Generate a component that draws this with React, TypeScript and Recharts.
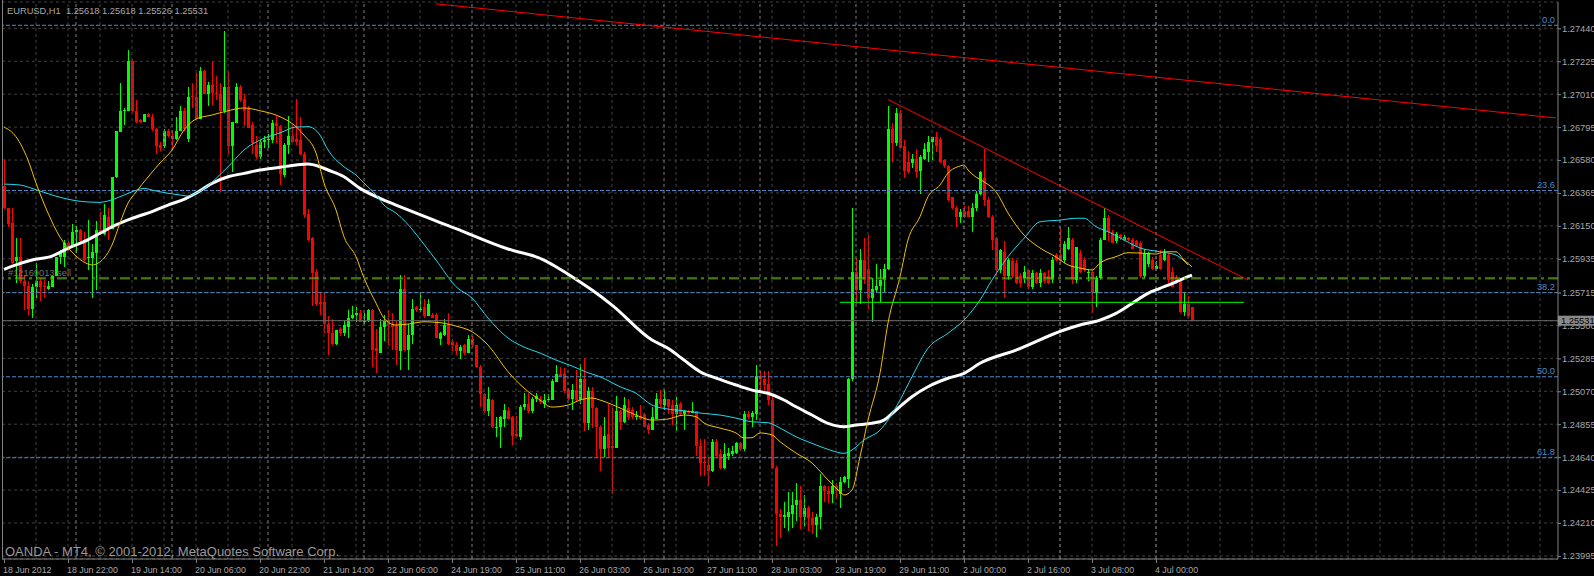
import { ComposedChart, Bar, Line, XAxis, YAxis, CartesianGrid, ReferenceLine } from "recharts";

// EURUSD H1, one entry per hourly bar (bar 0 = 18 Jun 06:00)
const opens = [
  1.2641, 1.2627, 1.2617, 1.2592, 1.2595, 1.2579, 1.2576, 1.2561, 1.2575, 1.2579,
  1.2576, 1.2574, 1.2575, 1.2582, 1.2595, 1.2595, 1.2604, 1.2602, 1.2611, 1.2612,
  1.2606, 1.2594, 1.2594, 1.2597, 1.2612, 1.2610, 1.2621, 1.2613, 1.2647, 1.2676,
  1.2690, 1.2690, 1.2723, 1.2690, 1.2684, 1.2683, 1.2688, 1.2686, 1.2678, 1.2668,
  1.2667, 1.2677, 1.2674, 1.2672, 1.2677, 1.2690, 1.2672, 1.2700, 1.2699, 1.2685,
  1.2716, 1.2701, 1.2707, 1.2702, 1.2701, 1.2690, 1.2706, 1.2667, 1.2682, 1.2706,
  1.2698, 1.2692, 1.2681, 1.2668, 1.2660, 1.2670, 1.2671, 1.2671, 1.2682, 1.2680,
  1.2648, 1.2668, 1.2674, 1.2672, 1.2671, 1.2662, 1.2623, 1.2607, 1.2585, 1.2565,
  1.2565, 1.2551, 1.2545, 1.2538, 1.2548, 1.2545, 1.2549, 1.2555, 1.2557, 1.2558,
  1.2552, 1.2553, 1.2560, 1.2535, 1.2532, 1.2549, 1.2553, 1.2551, 1.2550, 1.2533,
  1.2574, 1.2534, 1.2544, 1.2562, 1.2560, 1.2562, 1.2556, 1.2557, 1.2557, 1.2541,
  1.2544, 1.2551, 1.2539, 1.2537, 1.2533, 1.2537, 1.2532, 1.2541, 1.2537, 1.2523,
  1.2505, 1.2494, 1.2501, 1.2484, 1.2484, 1.2489, 1.2494, 1.2490, 1.2479, 1.2477,
  1.2497, 1.2499, 1.2494, 1.2502, 1.2502, 1.2499, 1.2501, 1.2501, 1.2513, 1.2518,
  1.2518, 1.2508, 1.2502, 1.2508, 1.2501, 1.2515, 1.2486, 1.2507, 1.2496, 1.2484,
  1.2469, 1.2479, 1.2471, 1.2470, 1.2494, 1.2487, 1.2496, 1.2495, 1.2490, 1.2491,
  1.2492, 1.2485, 1.2482, 1.2489, 1.2502, 1.2498, 1.2502, 1.2498, 1.2492, 1.2499,
  1.2492, 1.2494, 1.2493, 1.2494, 1.2471, 1.2461, 1.2459, 1.2455, 1.2474, 1.2466,
  1.2457, 1.2465, 1.2466, 1.2467, 1.2473, 1.2469, 1.2492, 1.2490, 1.2492, 1.2517,
  1.2515, 1.2512, 1.2501, 1.2457, 1.2427, 1.2425, 1.2425, 1.2427, 1.2433, 1.2436,
  1.2425, 1.2431, 1.2424, 1.2420, 1.2425, 1.2445, 1.2442, 1.2440, 1.2445, 1.2440,
  1.2448, 1.2450, 1.2515, 1.2585, 1.2573, 1.2593, 1.2587, 1.2568, 1.2573, 1.2576,
  1.2580, 1.2587, 1.2678, 1.2669, 1.2689, 1.2667, 1.2657, 1.2656, 1.2659, 1.2651,
  1.2659, 1.2663, 1.2670, 1.2673, 1.2672, 1.2658, 1.2654, 1.2634, 1.2627, 1.2621,
  1.2625, 1.2625, 1.2621, 1.2627, 1.2636, 1.2646, 1.2632, 1.2621, 1.2607, 1.2586,
  1.2598, 1.2582, 1.2592, 1.2591, 1.2582, 1.2581, 1.2586, 1.2575, 1.2584, 1.2578,
  1.2584, 1.2582, 1.2580, 1.2596, 1.2596, 1.2593, 1.2600, 1.2606, 1.2580, 1.2597,
  1.2593, 1.2584, 1.2585, 1.2571, 1.2581, 1.2606, 1.2620, 1.2611, 1.2605, 1.2609,
  1.2606, 1.2607, 1.2606, 1.2605, 1.2604, 1.2582, 1.2590, 1.2593, 1.2587, 1.2596,
  1.2593, 1.2596, 1.2585, 1.2581, 1.2580, 1.2559, 1.2564, 1.25618,
];
const highs = [
  1.2659, 1.2627, 1.2627, 1.2607, 1.2607, 1.2583, 1.2579, 1.2577, 1.2591, 1.2581,
  1.2580, 1.2579, 1.2582, 1.2595, 1.2599, 1.2606, 1.2605, 1.2616, 1.2615, 1.2613,
  1.2611, 1.2619, 1.2603, 1.2618, 1.2624, 1.2629, 1.2627, 1.2647, 1.2677, 1.2708,
  1.2692, 1.2730, 1.2724, 1.2697, 1.2685, 1.2688, 1.2689, 1.2688, 1.2679, 1.2670,
  1.2678, 1.2678, 1.2677, 1.2686, 1.2693, 1.2692, 1.2706, 1.2708, 1.2715, 1.2719,
  1.2717, 1.2709, 1.2723, 1.2713, 1.2708, 1.2742, 1.2716, 1.2683, 1.2708, 1.2707,
  1.2701, 1.2693, 1.2683, 1.2674, 1.2671, 1.2674, 1.2675, 1.2684, 1.2687, 1.2681,
  1.2669, 1.2687, 1.2681, 1.2698, 1.2686, 1.2663, 1.2626, 1.2608, 1.2587, 1.2572,
  1.2571, 1.2556, 1.2554, 1.2547, 1.2549, 1.2553, 1.2560, 1.2563, 1.2562, 1.2560,
  1.2558, 1.2561, 1.2561, 1.2548, 1.2554, 1.2557, 1.2560, 1.2558, 1.2553, 1.2583,
  1.2583, 1.2551, 1.2567, 1.2563, 1.2572, 1.2567, 1.2567, 1.2558, 1.2558, 1.2546,
  1.2554, 1.2558, 1.2541, 1.2539, 1.2537, 1.2538, 1.2544, 1.2543, 1.2537, 1.2524,
  1.2506, 1.2510, 1.2502, 1.2490, 1.2491, 1.2499, 1.2497, 1.2491, 1.2491, 1.2498,
  1.2506, 1.2506, 1.2503, 1.2506, 1.2504, 1.2505, 1.2505, 1.2515, 1.2524, 1.2523,
  1.2522, 1.2509, 1.2512, 1.2521, 1.2525, 1.2529, 1.2510, 1.2510, 1.2497, 1.2485,
  1.2490, 1.2499, 1.2496, 1.2504, 1.2495, 1.2503, 1.2502, 1.2497, 1.2494, 1.2498,
  1.2493, 1.2486, 1.2497, 1.2506, 1.2508, 1.2508, 1.2502, 1.2501, 1.2503, 1.2500,
  1.2495, 1.2495, 1.2500, 1.2494, 1.2476, 1.2476, 1.2464, 1.2476, 1.2476, 1.2469,
  1.2473, 1.2470, 1.2471, 1.2474, 1.2474, 1.2494, 1.2494, 1.2494, 1.2524, 1.2520,
  1.2520, 1.2520, 1.2505, 1.2458, 1.2430, 1.2435, 1.2441, 1.2441, 1.2447, 1.2445,
  1.2439, 1.2432, 1.2428, 1.2427, 1.2453, 1.2446, 1.2445, 1.2449, 1.2447, 1.2451,
  1.2452, 1.2516, 1.2627, 1.2594, 1.2600, 1.2607, 1.2609, 1.2581, 1.2590, 1.2587,
  1.2590, 1.2693, 1.2682, 1.2692, 1.2691, 1.2671, 1.2664, 1.2662, 1.2665, 1.2661,
  1.2669, 1.2674, 1.2673, 1.2676, 1.2673, 1.2659, 1.2655, 1.2634, 1.2628, 1.2626,
  1.2628, 1.2628, 1.2630, 1.2638, 1.2651, 1.2665, 1.2634, 1.2622, 1.2608, 1.2600,
  1.2605, 1.2594, 1.2594, 1.2593, 1.2584, 1.2589, 1.2587, 1.2586, 1.2585, 1.2587,
  1.2585, 1.2586, 1.2595, 1.2597, 1.2614, 1.2605, 1.2614, 1.2607, 1.2601, 1.2599,
  1.2595, 1.2587, 1.2586, 1.2582, 1.2607, 1.2627, 1.2622, 1.2612, 1.2611, 1.2610,
  1.2609, 1.2608, 1.2607, 1.2606, 1.2605, 1.2600, 1.2598, 1.2595, 1.2592, 1.2599,
  1.2600, 1.2597, 1.2588, 1.2583, 1.2581, 1.2572, 1.2569, 1.25618,
];
const lows = [
  1.2626, 1.2614, 1.2590, 1.2578, 1.2578, 1.2560, 1.2557, 1.2555, 1.2568, 1.2566,
  1.2568, 1.2573, 1.2575, 1.2582, 1.2590, 1.2588, 1.2601, 1.2601, 1.2597, 1.2604,
  1.2592, 1.2586, 1.2568, 1.2573, 1.2609, 1.2609, 1.2606, 1.2613, 1.2646, 1.2676,
  1.2681, 1.2690, 1.2689, 1.2682, 1.2682, 1.2683, 1.2686, 1.2677, 1.2662, 1.2664,
  1.2666, 1.2673, 1.2665, 1.2671, 1.2677, 1.2677, 1.2670, 1.2692, 1.2684, 1.2685,
  1.2701, 1.2693, 1.2694, 1.2697, 1.2637, 1.2689, 1.2662, 1.2650, 1.2682, 1.2696,
  1.2680, 1.2679, 1.2662, 1.2659, 1.2659, 1.2666, 1.2666, 1.2669, 1.2669, 1.2642,
  1.2647, 1.2662, 1.2670, 1.2668, 1.2661, 1.2620, 1.2605, 1.2563, 1.2563, 1.2557,
  1.2545, 1.2531, 1.2537, 1.2537, 1.2543, 1.2543, 1.2542, 1.2554, 1.2552, 1.2552,
  1.2551, 1.2552, 1.2523, 1.2519, 1.2532, 1.2540, 1.2537, 1.2534, 1.2524, 1.2521,
  1.2533, 1.2521, 1.2538, 1.2559, 1.2559, 1.2555, 1.2556, 1.2555, 1.2542, 1.2537,
  1.2543, 1.2537, 1.2533, 1.2531, 1.2528, 1.2531, 1.2532, 1.2536, 1.2522, 1.2497,
  1.2493, 1.2491, 1.2483, 1.2477, 1.2470, 1.2484, 1.2489, 1.2472, 1.2477, 1.2475,
  1.2495, 1.2493, 1.2493, 1.2500, 1.2499, 1.2496, 1.2500, 1.2501, 1.2513, 1.2517,
  1.2506, 1.2501, 1.2495, 1.2500, 1.2499, 1.2481, 1.2482, 1.2483, 1.2464, 1.2455,
  1.2464, 1.2464, 1.2440, 1.2470, 1.2482, 1.2486, 1.2488, 1.2489, 1.2488, 1.2488,
  1.2484, 1.2479, 1.2482, 1.2489, 1.2497, 1.2495, 1.2492, 1.2485, 1.2481, 1.2491,
  1.2482, 1.2492, 1.2493, 1.2465, 1.2452, 1.2452, 1.2445, 1.2454, 1.2464, 1.2456,
  1.2456, 1.2462, 1.2465, 1.2466, 1.2468, 1.2468, 1.2489, 1.2484, 1.2488, 1.2508,
  1.2506, 1.2498, 1.2456, 1.2406, 1.2411, 1.2418, 1.2416, 1.2418, 1.2422, 1.2417,
  1.2419, 1.2416, 1.2414, 1.2412, 1.2417, 1.2435, 1.2434, 1.2434, 1.2437, 1.2431,
  1.2447, 1.2444, 1.2514, 1.2564, 1.2564, 1.2577, 1.2561, 1.2552, 1.2572, 1.2565,
  1.2572, 1.2586, 1.2657, 1.2667, 1.2666, 1.2646, 1.2649, 1.2653, 1.2646, 1.2636,
  1.2658, 1.2657, 1.2658, 1.2663, 1.2656, 1.2653, 1.2631, 1.2626, 1.2614, 1.2617,
  1.2620, 1.2621, 1.2611, 1.2625, 1.2635, 1.2628, 1.2620, 1.2599, 1.2582, 1.2584,
  1.2568, 1.2580, 1.2581, 1.2577, 1.2575, 1.2578, 1.2574, 1.2574, 1.2577, 1.2575,
  1.2578, 1.2577, 1.2578, 1.2592, 1.2591, 1.2591, 1.2599, 1.2577, 1.2578, 1.2584,
  1.2585, 1.2579, 1.2558, 1.2562, 1.2580, 1.2606, 1.2605, 1.2604, 1.2604, 1.2606,
  1.2605, 1.2605, 1.2600, 1.2601, 1.2581, 1.2581, 1.2588, 1.2586, 1.2586, 1.2586,
  1.2592, 1.2578, 1.2575, 1.2577, 1.2558, 1.2556, 1.2555, 1.25526,
];
const closes = [
  1.2627, 1.2616, 1.2591, 1.2595, 1.2579, 1.2576, 1.2561, 1.2575, 1.2579, 1.2575,
  1.2575, 1.2576, 1.2582, 1.2595, 1.2597, 1.2604, 1.2602, 1.2611, 1.2612, 1.2605,
  1.2593, 1.2595, 1.2598, 1.2612, 1.2610, 1.2622, 1.2613, 1.2647, 1.2677, 1.2690,
  1.2691, 1.2723, 1.2690, 1.2683, 1.2683, 1.2688, 1.2686, 1.2678, 1.2667, 1.2666,
  1.2677, 1.2674, 1.2672, 1.2677, 1.2690, 1.2678, 1.2699, 1.2699, 1.2685, 1.2716,
  1.2701, 1.2707, 1.2702, 1.2701, 1.2690, 1.2706, 1.2667, 1.2683, 1.2706, 1.2697,
  1.2690, 1.2679, 1.2669, 1.2660, 1.2670, 1.2671, 1.2672, 1.2682, 1.2680, 1.2649,
  1.2668, 1.2674, 1.2670, 1.2670, 1.2662, 1.2622, 1.2606, 1.2584, 1.2564, 1.2564,
  1.2551, 1.2545, 1.2538, 1.2547, 1.2545, 1.2550, 1.2555, 1.2557, 1.2558, 1.2552,
  1.2553, 1.2560, 1.2534, 1.2533, 1.2549, 1.2553, 1.2550, 1.2549, 1.2534, 1.2574,
  1.2534, 1.2544, 1.2561, 1.2560, 1.2561, 1.2556, 1.2564, 1.2555, 1.2542, 1.2545,
  1.2550, 1.2538, 1.2537, 1.2533, 1.2536, 1.2532, 1.2541, 1.2537, 1.2523, 1.2505,
  1.2494, 1.2502, 1.2484, 1.2484, 1.2490, 1.2495, 1.2489, 1.2478, 1.2478, 1.2497,
  1.2499, 1.2494, 1.2502, 1.2504, 1.2500, 1.2501, 1.2502, 1.2514, 1.2518, 1.2517,
  1.2507, 1.2502, 1.2508, 1.2501, 1.2515, 1.2486, 1.2507, 1.2496, 1.2484, 1.2469,
  1.2478, 1.2470, 1.2470, 1.2494, 1.2487, 1.2498, 1.2490, 1.2490, 1.2491, 1.2489,
  1.2484, 1.2482, 1.2490, 1.2502, 1.2499, 1.2502, 1.2497, 1.2492, 1.2498, 1.2492,
  1.2494, 1.2493, 1.2494, 1.2471, 1.2460, 1.2460, 1.2455, 1.2474, 1.2465, 1.2457,
  1.2466, 1.2467, 1.2468, 1.2473, 1.2469, 1.2492, 1.2490, 1.2493, 1.2517, 1.2515,
  1.2511, 1.2501, 1.2457, 1.2427, 1.2425, 1.2426, 1.2428, 1.2433, 1.2436, 1.2425,
  1.2431, 1.2424, 1.2420, 1.2425, 1.2445, 1.2442, 1.2440, 1.2445, 1.2442, 1.2448,
  1.2451, 1.2515, 1.2585, 1.2573, 1.2593, 1.2580, 1.2568, 1.2574, 1.2576, 1.2580,
  1.2587, 1.2678, 1.2669, 1.2689, 1.2666, 1.2651, 1.2650, 1.2659, 1.2650, 1.2660,
  1.2665, 1.2670, 1.2673, 1.2667, 1.2657, 1.2654, 1.2632, 1.2627, 1.2621, 1.2624,
  1.2621, 1.2621, 1.2627, 1.2636, 1.2650, 1.2632, 1.2621, 1.2606, 1.2586, 1.2599,
  1.2582, 1.2593, 1.2582, 1.2578, 1.2578, 1.2585, 1.2575, 1.2584, 1.2578, 1.2584,
  1.2579, 1.2578, 1.2593, 1.2593, 1.2592, 1.2603, 1.2607, 1.2580, 1.2601, 1.2585,
  1.2586, 1.2585, 1.2571, 1.2581, 1.2606, 1.2620, 1.2611, 1.2604, 1.2610, 1.2607,
  1.2608, 1.2606, 1.2600, 1.2602, 1.2582, 1.2597, 1.2597, 1.2587, 1.2589, 1.2587,
  1.2597, 1.2580, 1.2575, 1.2579, 1.2559, 1.2564, 1.2556, 1.25531,
];

// moving averages, [bar, price]
const yellowMa = [
  [0, 1.26796], [3, 1.26732], [6, 1.2658], [8, 1.2643], [11, 1.26234], [14, 1.26077], [17, 1.25979],
  [20, 1.25914], [22, 1.25895], [25, 1.2594], [27, 1.26025], [29, 1.26169], [31, 1.26299], [33, 1.26371],
  [36, 1.26469], [39, 1.26561], [42, 1.26645], [45, 1.26776], [48, 1.26848], [52, 1.26874], [56, 1.26902],
  [60, 1.2692], [64, 1.26902], [69, 1.26863], [73, 1.26798], [75, 1.26743], [78, 1.26626], [80, 1.2643],
  [83, 1.26254], [85, 1.26079], [88, 1.25949], [90, 1.2581], [93, 1.25646], [95, 1.25548], [98, 1.25503],
  [101, 1.25509], [105, 1.25524], [109, 1.25518], [113, 1.25496], [117, 1.25459], [121, 1.25372],
  [126, 1.25198], [130, 1.25091], [134, 1.25013], [137, 1.24967], [141, 1.2498], [144, 1.25013],
  [147, 1.25026], [149, 1.25013], [154, 1.24961], [158, 1.24915], [162, 1.24882], [166, 1.24889],
  [170, 1.24915], [173, 1.24904], [175, 1.24863], [179, 1.2483], [183, 1.24798], [185, 1.24765],
  [187, 1.24767], [189, 1.24798], [192, 1.24785], [194, 1.24741], [198, 1.24667], [202, 1.24602],
  [206, 1.24491], [209, 1.24414], [210, 1.24393], [212, 1.24425], [214, 1.24643], [216, 1.24882],
  [219, 1.25189], [221, 1.25516], [224, 1.25818], [226, 1.26058], [229, 1.2621], [231, 1.26341],
  [234, 1.26417], [236, 1.26495], [239, 1.26541], [240, 1.26548], [241, 1.26515], [243, 1.26469],
  [245, 1.26438], [248, 1.26373], [251, 1.26234], [255, 1.2609], [259, 1.26006], [263, 1.25947],
  [266, 1.25895], [269, 1.25875], [272, 1.25862], [274, 1.25908], [278, 1.25949], [281, 1.25975],
  [284, 1.25973], [288, 1.25966], [290, 1.25981], [293, 1.25981], [295, 1.25927], [297, 1.25883],
];
const cyanMa = [
  [0, 1.26423], [4, 1.26417], [7, 1.26395], [12, 1.26352], [16, 1.26324], [20, 1.26308], [24, 1.26304],
  [28, 1.2633], [32, 1.26373], [35, 1.26395], [37, 1.26384], [41, 1.26363], [44, 1.26352], [46, 1.26345],
  [48, 1.26363], [56, 1.26536], [60, 1.26646], [64, 1.26711], [69, 1.26757], [73, 1.26796], [76, 1.26798],
  [79, 1.26743], [81, 1.26646], [85, 1.26536], [88, 1.26482], [90, 1.2643], [93, 1.26352], [95, 1.26286],
  [98, 1.26234], [108, 1.25927], [113, 1.25753], [117, 1.25679], [121, 1.25548], [126, 1.25418],
  [130, 1.25359], [134, 1.2532], [138, 1.25274], [142, 1.25235], [146, 1.25191], [149, 1.25165],
  [154, 1.251], [158, 1.25057], [162, 1.2498], [166, 1.24954], [170, 1.24943], [174, 1.24928],
  [179, 1.24915], [183, 1.24895], [187, 1.24871], [191, 1.24865], [194, 1.2483], [198, 1.24773],
  [202, 1.2473], [206, 1.24691], [210, 1.24665], [212, 1.24687], [215, 1.24752], [219, 1.24817],
  [221, 1.24882], [224, 1.25013], [227, 1.25165], [231, 1.25351], [236, 1.25449], [240, 1.25535],
  [244, 1.25666], [247, 1.25797], [251, 1.25949], [255, 1.26069], [259, 1.26177], [264, 1.26188],
  [268, 1.262], [270, 1.262], [273, 1.26145], [276, 1.26112], [280, 1.26058], [284, 1.26006],
  [289, 1.25981], [293, 1.2596], [296, 1.25895],
];
const whiteMa = [
  [0, 1.25866], [3, 1.25895], [7, 1.25927], [12, 1.25953], [16, 1.26004], [20, 1.26047], [24, 1.26102],
  [28, 1.26156], [32, 1.26199], [37, 1.26243], [41, 1.26286], [45, 1.26324], [48, 1.26363], [52, 1.26428],
  [56, 1.26471], [60, 1.26493], [64, 1.26515], [69, 1.26533], [73, 1.26548], [76, 1.26554], [79, 1.26536],
  [81, 1.26515], [85, 1.26471], [89, 1.26395], [94, 1.2633], [98, 1.26286], [101, 1.26254], [113, 1.26132],
  [126, 1.25999], [135, 1.25927], [138, 1.25883], [142, 1.25818], [147, 1.25731], [152, 1.25633],
  [162, 1.25405], [166, 1.25351], [170, 1.25274], [174, 1.25198], [179, 1.25148], [183, 1.25111],
  [187, 1.25078], [191, 1.25057], [195, 1.25013], [198, 1.24969], [202, 1.24915], [206, 1.24861],
  [210, 1.24839], [213, 1.2485], [217, 1.24861], [220, 1.24882], [223, 1.24948], [227, 1.25035],
  [231, 1.251], [236, 1.25155], [240, 1.25187], [244, 1.25253], [253, 1.25339], [265, 1.2547],
  [269, 1.25503], [274, 1.25535], [278, 1.25579], [282, 1.25644], [286, 1.2571], [289, 1.25742],
  [293, 1.25785], [295, 1.25808], [297, 1.25829],
];

const labelBars = [0, 16, 32, 48, 64, 80, 96, 112, 128, 144, 160, 176, 192, 208, 224, 240, 256, 272, 288];
const dateLabels = [
  "18 Jun 2012", "18 Jun 22:00", "19 Jun 14:00", "20 Jun 06:00", "20 Jun 22:00", "21 Jun 14:00",
  "22 Jun 06:00", "24 Jun 19:00", "25 Jun 11:00", "26 Jun 03:00", "26 Jun 19:00", "27 Jun 11:00",
  "28 Jun 03:00", "28 Jun 19:00", "29 Jun 11:00", "2 Jul 00:00", "2 Jul 16:00", "3 Jul 08:00", "4 Jul 00:00",
];
const daySeparators = [18, 42, 66, 90, 117, 141, 165, 189, 213, 240, 264, 288];

const priceTicks = [
  1.23995, 1.2421, 1.24425, 1.2464, 1.24855, 1.2507, 1.25285, 1.255, 1.25715,
  1.25935, 1.2615, 1.26365, 1.2658, 1.26795, 1.2701, 1.27225, 1.2744,
];
const fibLevels = [
  { label: "0.0", price: 1.2746 },
  { label: "23.6", price: 1.26381 },
  { label: "38.2", price: 1.25714 },
  { label: "50.0", price: 1.25165 },
  { label: "61.8", price: 1.24636 },
];
const orderPrice = 1.2581;
const supportLine = { from: 209, to: 310, price: 1.25651 };
const longTrend = [{ bar: 108, price: 1.276 }, { bar: 388, price: 1.26855 }];
const shortTrend = [{ bar: 221, price: 1.26975 }, { bar: 311, price: 1.25797 }];

const last = closes.length - 1;
const lastPrice = closes[last];
const titleText = "EURUSD,H1  " + [opens[last], highs[last], lows[last], closes[last]].map((v) => v.toFixed(5)).join(" ");

const SLOTS = 389; // 4px per hour across the plot, terminal leaves the right part empty
const FONT = "'Liberation Sans', Arial, sans-serif";
const AXIS = "#808080";
const GRID = "#404040";
const SEP = "#7c7c7c";
const TXT = "#a8a8a8";
const FIB = "#4f88c8";

const toMap = (pts: number[][]) => new Map(pts.map(([b, v]) => [b, v] as [number, number]));
const yellowAt = toMap(yellowMa);
const cyanAt = toMap(cyanMa);
const whiteAt = toMap(whiteMa);

const rows = Array.from({ length: SLOTS }, (_, i) => {
  const has = i < closes.length;
  return {
    i,
    range: has ? [lows[i], highs[i]] : null,
    o: has ? opens[i] : null,
    h: has ? highs[i] : null,
    l: has ? lows[i] : null,
    c: has ? closes[i] : null,
    ma1: yellowAt.get(i) ?? null,
    ma2: cyanAt.get(i) ?? null,
    ma3: whiteAt.get(i) ?? null,
  };
});
const labelAt = new Map(labelBars.map((b, k) => [b, dateLabels[k]] as [number, string]));
const gridBars = Array.from({ length: 48 }, (_, k) => (k + 1) * 8);

const Candle = (props: any) => {
  const { x, y, width, height, payload } = props;
  if (!payload || payload.o == null || height == null) return <g />;
  const { o, h, l, c } = payload;
  const color = c >= o ? "#00ff00" : "#ff0000";
  const span = h - l;
  const at = (v: number) => (span > 0 ? y + ((h - v) / span) * height : y);
  const cx = Math.floor(x + width / 2);
  const top = Math.min(at(o), at(c));
  const bot = Math.max(at(o), at(c));
  return (
    <g shapeRendering="crispEdges">
      <rect x={cx} y={y} width={1} height={Math.max(height, 1)} fill={color} />
      <rect x={cx - 1} y={top} width={3} height={Math.max(bot - top, 1)} fill={color} />
    </g>
  );
};

const PriceTick = (props: any) => {
  const { x, y, payload } = props;
  const v: number = payload.value;
  if (v === lastPrice) {
    return (
      <g>
        <rect x={x} y={y - 5} width={36} height={10} fill="#8a8a8a" />
        <text x={x + 3} y={y + 3.4} fontSize={9.3} fontFamily={FONT} fill="#000">{v.toFixed(5)}</text>
      </g>
    );
  }
  return (
    <g>
      <line x1={x} x2={x + 3} y1={y + 0.5} y2={y + 0.5} stroke={AXIS} />
      <text x={x + 4} y={y + 3.4} fontSize={9.3} fontFamily={FONT} fill={TXT}>{v.toFixed(5)}</text>
    </g>
  );
};

const DateTick = (props: any) => {
  const { x, y, payload } = props;
  return (
    <g>
      <line x1={x + 0.5} x2={x + 0.5} y1={y} y2={y + 4} stroke={AXIS} />
      <text x={x - 1} y={y + 14} fontSize={8.8} fontFamily={FONT} fill={TXT}>{labelAt.get(payload.value)}</text>
    </g>
  );
};

const fibLabel = (text: string) => (p: any) => {
  const vb = p.viewBox || {};
  return (
    <text x={vb.x + vb.width - 3} y={vb.y - 2.5} textAnchor="end" fontSize={9.3} fontFamily={FONT} fill={FIB}>
      {text}
    </text>
  );
};

const orderLabel = (p: any) => {
  const vb = p.viewBox || {};
  return (
    <text x={vb.x + 6} y={vb.y - 2} fontSize={9.3} fontFamily={FONT} fill="#707070">#12169013 sell</text>
  );
};

export default function App() {
  return (
    <div style={{ position: "absolute", left: 0, top: 0, width: 1594, height: 576, background: "#000" }}>
      <ComposedChart
        width={1594}
        height={576}
        data={rows}
        margin={{ top: 2, right: 0, bottom: 0, left: 2 }}
        barCategoryGap={0}
        barGap={0}
      >
        <CartesianGrid vertical={false} stroke={GRID} strokeDasharray="3 3" />
        <XAxis
          dataKey="i"
          type="category"
          ticks={labelBars}
          interval={0}
          height={17}
          tickSize={0}
          tickMargin={0}
          tickLine={false}
          axisLine={{ stroke: AXIS }}
          tick={DateTick}
        />
        <YAxis
          orientation="right"
          type="number"
          width={36}
          domain={[1.23975, 1.27612]}
          allowDataOverflow
          ticks={[...priceTicks, lastPrice]}
          interval={0}
          tickSize={0}
          tickMargin={0}
          tickLine={false}
          axisLine={{ stroke: AXIS }}
          tick={PriceTick}
        />
        {gridBars.map((b) => (
          <ReferenceLine key={"g" + b} x={b} stroke={GRID} strokeDasharray="3 3" />
        ))}
        {daySeparators.map((b) => (
          <ReferenceLine key={"d" + b} x={b} stroke={SEP} strokeDasharray="3 3" />
        ))}
        {fibLevels.map((f) => (
          <ReferenceLine key={f.label} y={f.price} stroke={FIB} strokeDasharray="4 2" label={fibLabel(f.label)} />
        ))}
        <ReferenceLine y={lastPrice} stroke="#6a6a6a" />
        <Bar dataKey="range" barSize={3} shape={Candle} isAnimationActive={false} />
        <Line dataKey="ma3" type="monotone" stroke="#ffffff" strokeWidth={3} dot={false} activeDot={false} connectNulls isAnimationActive={false} />
        <Line dataKey="ma2" type="monotone" stroke="#20d8ec" strokeWidth={1} dot={false} activeDot={false} connectNulls isAnimationActive={false} />
        <Line dataKey="ma1" type="monotone" stroke="#f0c000" strokeWidth={1} dot={false} activeDot={false} connectNulls isAnimationActive={false} />
        <ReferenceLine
          segment={[{ x: supportLine.from, y: supportLine.price }, { x: supportLine.to, y: supportLine.price }]}
          stroke="#00ff00"
        />
        <ReferenceLine
          segment={longTrend.map((p) => ({ x: p.bar, y: p.price }))}
          stroke="#ff0000"
          ifOverflow="hidden"
        />
        <ReferenceLine
          segment={shortTrend.map((p) => ({ x: p.bar, y: p.price }))}
          stroke="#ff0000"
        />
        <ReferenceLine y={orderPrice - 0.00007} stroke="#ff0000" strokeDasharray="10 4 3 4" />
        <ReferenceLine y={orderPrice} stroke="#00ff00" strokeDasharray="10 4 3 4" label={orderLabel} />
      </ComposedChart>
      <svg width={1594} height={576} style={{ position: "absolute", left: 0, top: 0, pointerEvents: "none" }}>
        <line x1={2.5} y1={0} x2={2.5} y2={559} stroke={AXIS} />
        <text x={7} y={14} fontSize={9.3} fontFamily={FONT} fill={TXT} style={{ whiteSpace: "pre" }}>{titleText}</text>
        <text x={5} y={556} fontSize={13} fontFamily={FONT} fill="#9a9a9a">OANDA - MT4, © 2001-2012, MetaQuotes Software Corp.</text>
      </svg>
    </div>
  );
}
